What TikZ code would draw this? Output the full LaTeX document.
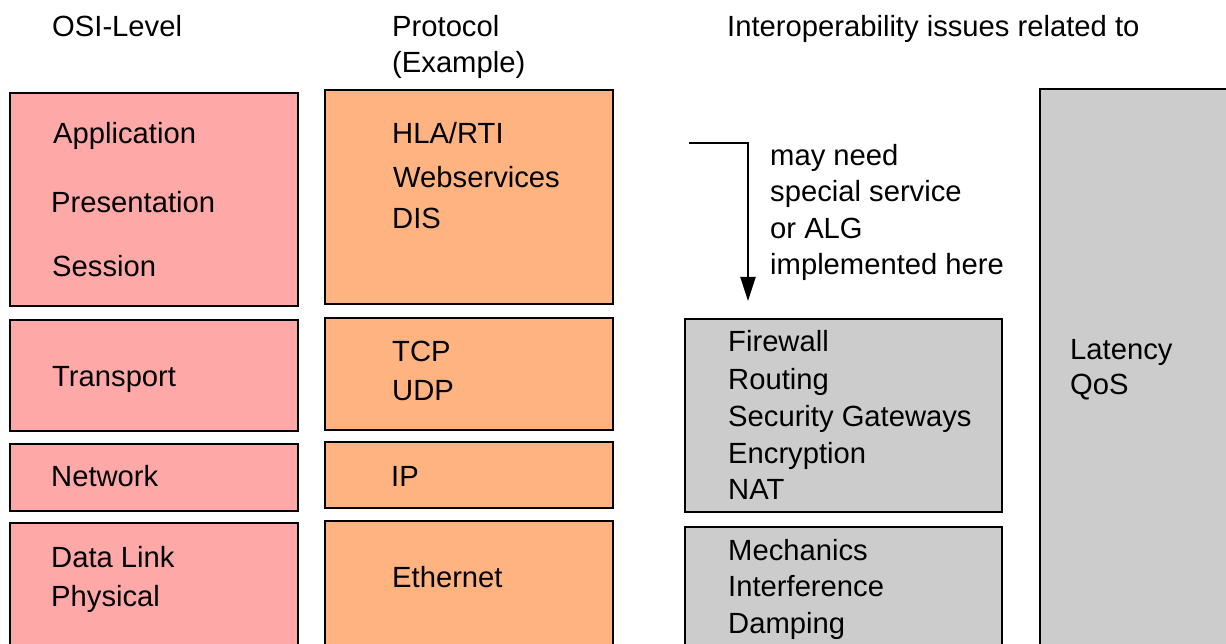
\documentclass[tikz,border=0pt]{standalone}
\usepackage{fontspec}
\setmainfont{Liberation Sans}
\usetikzlibrary{arrows.meta}
\definecolor{pinkfill}{HTML}{FFA8A8}
\definecolor{orangefill}{HTML}{FFB380}
\definecolor{grayfill}{HTML}{CCCCCC}
\tikzset{
  layerbox/.style={draw=black, line width=2pt, anchor=north west, inner sep=0pt, outer sep=0pt},
  osibox/.style={layerbox, fill=pinkfill},
  protobox/.style={layerbox, fill=orangefill},
  issuebox/.style={layerbox, fill=grayfill},
  lbl/.style={anchor=base west, inner sep=0pt, font=\fontsize{29.2}{34}\selectfont},
  conn/.style={line width=2pt, -{Triangle[length=24pt,width=15pt]}}
}
\begin{document}
\begin{tikzpicture}[x=1pt,y=-1pt]
\useasboundingbox (0,0) rectangle (1226,644);
\clip (0,0) rectangle (1226,644);
\fill[white] (0,0) rectangle (1226,644);
% headers
\node[lbl] (h1) at (52,37) {OSI-Level};
\node[lbl] (h2) at (392,37) {Protocol};
\node[lbl] (h2b) at (392,73) {(Example)};
\node[lbl] (h3) at (727,37) {Interoperability issues related to};
% OSI boxes
\node[osibox, minimum width=288pt, minimum height=213pt] (o1) at (10,93) {};
\node[osibox, minimum width=288pt, minimum height=111pt] (o2) at (10,320) {};
\node[osibox, minimum width=288pt, minimum height=67pt] (o3) at (10,444) {};
\node[osibox, minimum width=288pt, minimum height=150pt] (o4) at (10,523) {};
% protocol boxes
\node[protobox, minimum width=288pt, minimum height=214pt] (p1) at (325,90) {};
\node[protobox, minimum width=288pt, minimum height=112pt] (p2) at (325,318) {};
\node[protobox, minimum width=288pt, minimum height=66pt] (p3) at (325,442) {};
\node[protobox, minimum width=288pt, minimum height=150pt] (p4) at (325,521) {};
% issue boxes
\node[issuebox, minimum width=317pt, minimum height=193pt] (g1) at (685,319) {};
\node[issuebox, minimum width=317pt, minimum height=150pt] (g2) at (685,527) {};
\node[issuebox, minimum width=220pt, minimum height=590pt] (lat) at (1040,89) {};
% OSI labels
\node[lbl] (tApp) at (53,144) {Application};
\node[lbl] (tPres) at (51,213) {Presentation};
\node[lbl] (tSess) at (52,277) {Session};
\node[lbl] (tTrans) at (52,386) {Transport};
\node[lbl] (tNet) at (51,486) {Network};
\node[lbl] (tDL) at (51,567) {Data Link};
\node[lbl] (tPhy) at (51,606) {Physical};
% protocol labels
\node[lbl] (tHLA) at (392,144) {HLA/RTI};
\node[lbl] (tWeb) at (393,188) {Webservices};
\node[lbl] (tDIS) at (392,229) {DIS};
\node[lbl] (tTCP) at (392,361) {TCP};
\node[lbl] (tUDP) at (392,400) {UDP};
\node[lbl] (tIP) at (391,486) {IP};
\node[lbl] (tEth) at (392,587) {Ethernet};
% arrow note
\node[lbl] (n1) at (770,166) {may need};
\node[lbl] (n2) at (770,202) {special service};
\node[lbl] (n3) at (770,239) {or ALG};
\node[lbl] (n4) at (770,275) {implemented here};
% issue labels
\node[lbl] (tFw) at (728,352) {Firewall};
\node[lbl] (tRt) at (728,389) {Routing};
\node[lbl] (tSG) at (728,426) {Security Gateways};
\node[lbl] (tEnc) at (728,463) {Encryption};
\node[lbl] (tNAT) at (728,499) {NAT};
\node[lbl] (tMech) at (728,560) {Mechanics};
\node[lbl] (tInt) at (728,596) {Interference};
\node[lbl] (tDamp) at (728,633) {Damping};
\node[lbl] (tLat) at (1070,359) {Latency};
\node[lbl] (tQoS) at (1070,394) {QoS};
% connector
\coordinate (arrStart) at (689,143);
\coordinate (arrEnd) at (748,301);
\draw[conn] (arrStart) -| (arrEnd);
\end{tikzpicture}
\end{document}
